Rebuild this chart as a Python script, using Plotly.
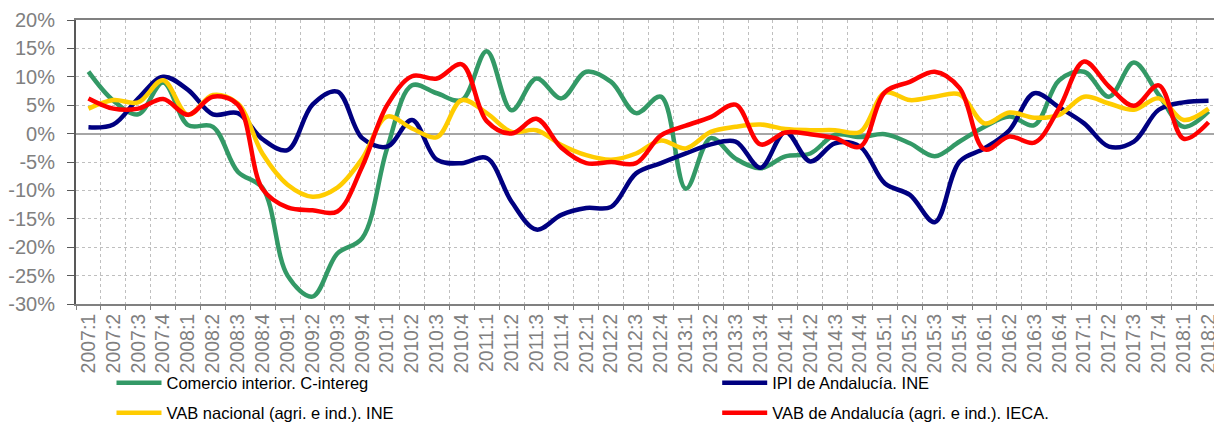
import plotly.graph_objects as go

quarters = ["2007:1", "2007:2", "2007:3", "2007:4", "2008:1", "2008:2", "2008:3", "2008:4",
            "2009:1", "2009:2", "2009:3", "2009:4", "2010:1", "2010:2", "2010:3", "2010:4",
            "2011:1", "2011:2", "2011:3", "2011:4", "2012:1", "2012:2", "2012:3", "2012:4",
            "2013:1", "2013:2", "2013:3", "2013:4", "2014:1", "2014:2", "2014:3", "2014:4",
            "2015:1", "2015:2", "2015:3", "2015:4", "2016:1", "2016:2", "2016:3", "2016:4",
            "2017:1", "2017:2", "2017:3", "2017:4", "2018:1", "2018:2"]

comercio = [10.9, 5.8, 3.4, 9.0, 1.5, 1.2, -6.7, -9.6, -25.0, -28.7, -21.1, -18.4, -2.6, 8.5, 7.1, 5.9,
            14.5, 4.1, 9.7, 6.2, 10.9, 9.1, 3.6, 6.5, -9.7, -0.8, -4.4, -6.1, -4.0, -3.5, -0.2, -0.6,
            -0.1, -1.7, -4.0, -1.4, 1.2, 3.0, 1.5, 9.4, 10.9, 6.5, 12.5, 6.8, 1.2, 3.9]

ipi = [1.1, 1.6, 6.2, 10.0, 7.7, 3.4, 3.6, -1.0, -2.9, 5.1, 7.4, -0.8, -2.3, 2.4, -4.6, -5.2,
       -4.3, -12.0, -16.9, -14.3, -13.1, -12.9, -7.0, -5.2, -3.5, -1.9, -1.4, -6.0, 0.3, -4.9, -1.7, -2.3,
       -8.8, -10.8, -15.6, -4.9, -2.6, 0.6, 7.1, 4.6, 1.8, -2.3, -1.4, 4.2, 5.5, 5.8]

vab_nacional = [4.4, 5.9, 5.5, 9.4, 3.3, 6.8, 5.3, -3.6, -9.0, -11.1, -9.5, -4.4, 3.0, 0.9, -0.6, 5.9,
                3.6, 0.3, 0.6, -2.0, -3.8, -4.6, -3.5, -1.2, -2.6, 0.3, 1.2, 1.6, 0.8, 0.6, 0.6, 0.3,
                7.2, 5.9, 6.5, 6.9, 1.8, 3.7, 2.8, 3.3, 6.5, 5.3, 4.2, 6.2, 2.4, 4.4]

vab_andalucia = [6.2, 4.4, 4.4, 6.1, 3.3, 6.5, 5.1, -9.8, -13.0, -13.5, -13.7, -5.8, 5.0, 10.1, 9.7, 12.2,
                 2.2, 0.0, 2.6, -2.5, -5.2, -5.0, -5.2, -0.3, 1.4, 2.9, 5.1, -1.9, 0.2, -0.1, -0.8, -2.3,
                 7.3, 9.1, 10.9, 8.0, -2.8, -0.5, -1.6, 4.5, 12.7, 8.3, 4.9, 8.5, -0.9, 2.0]

series_names = ["Comercio interior. C-intereg", "IPI de Andalucía. INE",
                "VAB nacional (agri. e ind.). INE", "VAB de Andalucía (agri. e ind.). IECA."]
series_values = [comercio, ipi, vab_nacional, vab_andalucia]
series_colors = ["#339966", "#000080", "#FFCC00", "#FF0000"]
series_legend = ["legend", "legend2", "legend3", "legend4"]
# legend placement (paper coords): two columns, two rows below the axis labels
legend_x = [0.031, 0.560, 0.031, 0.560]
legend_y = [-0.278, -0.278, -0.384, -0.384]

y_tick_vals = [-30, -25, -20, -15, -10, -5, 0, 5, 10, 15, 20]
y_tick_text = ["-30%", "-25%", "-20%", "-15%", "-10%", "-5%", "0%", "5%", "10%", "15%", "20%"]

FONT = "Liberation Sans, Arial, sans-serif"

fig = go.Figure()
for name, vals, col, lg in zip(series_names, series_values, series_colors, series_legend):
    fig.add_trace(go.Scatter(
        x=quarters, y=vals, name=name, mode="lines",
        line=dict(color=col, width=4.5, shape="spline", smoothing=1.0),
        legend=lg,
    ))

legend_layout = {}
for lg, lx, ly in zip(series_legend, legend_x, legend_y):
    legend_layout[lg] = dict(orientation="h", x=lx, y=ly, xanchor="left", yanchor="middle",
                             font=dict(size=16.5, family=FONT, color="#000000"),
                             itemwidth=45, bgcolor="rgba(0,0,0,0)")

# page body has an 8px default margin: figure is sized to fit the 1222x425 window
fig.update_layout(
    width=1214, height=417,
    margin=dict(l=68, r=1, t=12, b=121, autoexpand=False),
    paper_bgcolor="white", plot_bgcolor="white",
    font=dict(family=FONT, color="#000000"),
    showlegend=True,
    **legend_layout,
)

fig.update_xaxes(
    type="category", tickson="boundaries",
    showgrid=True, gridcolor="#BFBFBF", griddash="dot", gridwidth=1,
    showline=True, linecolor="#808080", linewidth=2, mirror=True,
    ticks="outside", ticklen=4, tickcolor="#808080",
    tickangle=-90, tickfont=dict(size=19.5, color="#808080", family=FONT),
    range=[-0.5, 45.5],
)

fig.update_yaxes(
    range=[-30, 20], tickvals=y_tick_vals, ticktext=y_tick_text,
    showgrid=True, gridcolor="#BFBFBF", griddash="dot", gridwidth=1,
    zeroline=True, zerolinecolor="#A6A6A6", zerolinewidth=2,
    showline=True, linecolor="#595959", linewidth=2, mirror=True,
    ticks="outside", ticklen=7, tickcolor="#595959",
    tickfont=dict(size=20, color="#808080", family=FONT),
    ticklabelstandoff=8,
)

fig.write_html("out.html")
